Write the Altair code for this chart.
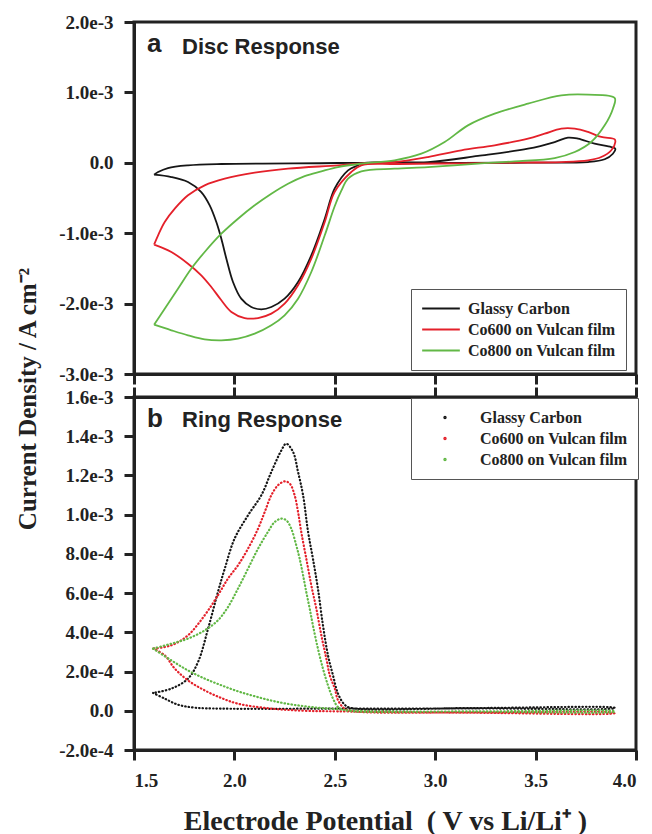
import altair as alt
import pandas as pd

# ---------------- data ----------------
SERIES = ["Glassy Carbon", "Co600 on Vulcan film", "Co800 on Vulcan film"]
COLORS = ["#161616", "#e4202a", "#62b846"]

X_TICKS = [1.5, 2.0, 2.5, 3.0, 3.5, 4.0]
X_TICK_LABELS = ["1.5", "2.0", "2.5", "3.0", "3.5", "4.0"]

# current density in units of 1e-3 A cm^-2
DISC_TICKS = [-3.0, -2.0, -1.0, 0.0, 1.0, 2.0]
DISC_TICK_LABELS = ["-3.0e-3", "-2.0e-3", "-1.0e-3", "0.0", "1.0e-3", "2.0e-3"]
RING_TICKS = [-0.2, 0.0, 0.2, 0.4, 0.6, 0.8, 1.0, 1.2, 1.4, 1.6]
RING_TICK_LABELS = ["-2.0e-4", "0.0", "2.0e-4", "4.0e-4", "6.0e-4", "8.0e-4",
                    "1.0e-3", "1.2e-3", "1.4e-3", "1.6e-3"]

PANEL_LETTERS = ["a", "b"]
PANEL_TITLES = ["Disc Response", "Ring Response"]
X_TITLE = "Electrode Potential\u00a0 ( V vs Li/Li\u207a )"
Y_TITLE = "Current Density / A cm\u207b\u00b2"

# Disc response (closed CV loops)
GC_DISC_V = [1.600, 1.620, 1.669, 1.769, 1.935, 2.516, 2.964, 3.213, 3.462, 3.595, 3.661,
             3.711, 3.794, 3.877, 3.897, 3.885, 3.844, 3.761, 3.462, 3.130, 2.632, 2.616,
             2.566, 2.499, 2.450, 2.383, 2.317, 2.250, 2.184, 2.134, 2.084, 2.034, 1.993,
             1.960, 1.935, 1.910, 1.877, 1.835, 1.769, 1.686, 1.600]
GC_DISC_I = [-0.169, -0.131, -0.074, -0.036, -0.017, -0.003, 0.011, 0.097, 0.200, 0.295, 0.357,
             0.343, 0.272, 0.224, 0.200, 0.129, 0.050, 0.011, 0.002, -0.002, -0.007, -0.036,
             -0.107, -0.368, -0.794, -1.314, -1.693, -1.930, -2.048, -2.081, -2.048, -1.930, -1.693,
             -1.362, -1.078, -0.841, -0.604, -0.415, -0.273, -0.202, -0.169]

CO600_DISC_V = [1.600, 1.620, 1.653, 1.703, 1.769, 1.852, 1.952, 2.101, 2.267, 2.516, 2.650,
                2.798, 2.964, 3.130, 3.296, 3.462, 3.545, 3.628, 3.695, 3.761, 3.827, 3.894,
                3.897, 3.877, 3.827, 3.761, 3.628, 3.396, 3.130, 2.798, 2.632, 2.582, 2.499,
                2.450, 2.383, 2.317, 2.250, 2.184, 2.118, 2.051, 1.985, 1.935, 1.885, 1.835,
                1.769, 1.686, 1.600]
CO600_DISC_I = [-1.163, -1.030, -0.841, -0.652, -0.462, -0.320, -0.226, -0.141, -0.083, -0.036, -0.005,
                0.011, 0.082, 0.178, 0.249, 0.343, 0.414, 0.485, 0.485, 0.438, 0.367, 0.333,
                0.295, 0.178, 0.082, 0.035, 0.011, 0.002, -0.007, -0.017, -0.036, -0.131, -0.415,
                -0.841, -1.362, -1.740, -2.001, -2.143, -2.205, -2.205, -2.119, -1.953, -1.764, -1.598,
                -1.433, -1.267, -1.163]

CO800_DISC_V = [1.600, 1.653, 1.719, 1.785, 1.852, 1.935, 2.018, 2.101, 2.184, 2.267, 2.350,
                2.433, 2.516, 2.632, 2.798, 2.931, 3.047, 3.163, 3.296, 3.462, 3.628, 3.761,
                3.894, 3.885, 3.844, 3.777, 3.695, 3.595, 3.396, 3.213, 2.964, 2.798, 2.632,
                2.566, 2.532, 2.499, 2.450, 2.383, 2.317, 2.250, 2.184, 2.101, 2.018, 1.935,
                1.852, 1.769, 1.686, 1.600]
CO800_DISC_I = [-2.300, -2.072, -1.788, -1.504, -1.267, -1.007, -0.794, -0.604, -0.439, -0.297, -0.188,
                -0.121, -0.060, -0.012, 0.035, 0.129, 0.295, 0.532, 0.698, 0.840, 0.958, 0.968,
                0.920, 0.769, 0.532, 0.295, 0.153, 0.068, 0.021, -0.012, -0.060, -0.083, -0.121,
                -0.226, -0.400, -0.620, -1.030, -1.551, -1.930, -2.166, -2.308, -2.427, -2.498, -2.521,
                -2.507, -2.450, -2.379, -2.300]

# Ring response (closed loops)
GC_RING_V = [1.595, 1.653, 1.719, 1.802, 1.935, 2.500, 3.200, 3.894, 3.894, 3.200, 2.582,
             2.549, 2.516, 2.491, 2.466, 2.441, 2.416, 2.391, 2.367, 2.342, 2.317, 2.292,
             2.258, 2.234, 2.184, 2.134, 2.068, 2.001, 1.952, 1.918, 1.869, 1.819, 1.769,
             1.686, 1.595]
GC_RING_I = [0.091, 0.062, 0.031, 0.016, 0.011, 0.011, 0.012, 0.013, 0.015, 0.014, 0.014,
             0.031, 0.087, 0.181, 0.283, 0.436, 0.623, 0.776, 0.912, 1.099, 1.218, 1.320,
             1.362, 1.328, 1.218, 1.099, 0.997, 0.878, 0.725, 0.606, 0.419, 0.249, 0.164,
             0.113, 0.091]

CO600_RING_V = [1.595, 1.653, 1.703, 1.769, 1.852, 1.935, 2.018, 2.184, 2.350, 2.516, 3.200,
                3.894, 3.894, 3.200, 2.599, 2.549, 2.516, 2.500, 2.475, 2.458, 2.433, 2.408,
                2.383, 2.358, 2.333, 2.317, 2.300, 2.276, 2.251, 2.217, 2.184, 2.151, 2.118,
                2.068, 2.018, 1.968, 1.918, 1.852, 1.769, 1.686, 1.595]
CO600_RING_I = [0.317, 0.283, 0.215, 0.155, 0.104, 0.065, 0.036, 0.011, 0.000, -0.003, -0.010,
                -0.012, -0.010, -0.008, -0.003, 0.011, 0.054, 0.113, 0.181, 0.266, 0.385, 0.521,
                0.640, 0.776, 0.912, 1.014, 1.099, 1.158, 1.170, 1.150, 1.099, 1.014, 0.929,
                0.827, 0.742, 0.674, 0.589, 0.487, 0.385, 0.334, 0.317]

CO800_RING_V = [1.595, 1.686, 1.769, 1.852, 1.935, 2.018, 2.101, 2.184, 2.267, 2.350, 2.433,
                2.516, 2.599, 3.200, 3.894, 3.894, 3.200, 2.549, 2.516, 2.491, 2.466, 2.441,
                2.416, 2.391, 2.375, 2.358, 2.342, 2.325, 2.308, 2.283, 2.259, 2.234, 2.201,
                2.167, 2.118, 2.068, 2.018, 1.968, 1.918, 1.852, 1.769, 1.686, 1.595]
CO800_RING_I = [0.317, 0.257, 0.206, 0.164, 0.130, 0.099, 0.074, 0.052, 0.035, 0.023, 0.014,
                0.008, 0.000, -0.004, -0.005, -0.003, -0.003, 0.003, 0.019, 0.062, 0.130, 0.215,
                0.317, 0.436, 0.521, 0.606, 0.691, 0.776, 0.844, 0.929, 0.971, 0.980, 0.963,
                0.912, 0.827, 0.725, 0.623, 0.529, 0.461, 0.410, 0.368, 0.342, 0.317]


def make_df(v_lists, i_lists):
    frames = []
    for name, vs, cs in zip(SERIES, v_lists, i_lists):
        frames.append(pd.DataFrame({"series": name, "V": vs, "I": cs,
                                    "idx": list(range(len(vs)))}))
    return pd.concat(frames, ignore_index=True)


def label_expr(ticks, labels):
    expr = "''"
    for t, lab in reversed(list(zip(ticks, labels))):
        expr = f"abs(datum.value - ({t})) < 1e-6 ? '{lab}' : ({expr})"
    return expr


disc_df = make_df([GC_DISC_V, CO600_DISC_V, CO800_DISC_V], [GC_DISC_I, CO600_DISC_I, CO800_DISC_I])
ring_df = make_df([GC_RING_V, CO600_RING_V, CO800_RING_V], [GC_RING_I, CO600_RING_I, CO800_RING_I])

W = 502
SERIF = "Liberation Serif"
SANS = "Liberation Sans"
INK = "#222222"

x_scale = alt.Scale(domain=[1.5, 4.0], nice=False, zero=False)
color_scale = alt.Scale(domain=SERIES, range=COLORS)

legend_common = dict(
    title=None, orient="none", labelFont=SERIF, labelFontWeight="bold", labelFontSize=16,
    labelColor=INK, labelLimit=400, strokeColor="#555555", fillColor="white",
    clipHeight=19, rowPadding=2, padding=10,
)
label_style = dict(labelFont=SERIF, labelFontWeight="bold", labelFontSize=19, labelColor=INK)

# ---------------- disc panel ----------------
disc_lines = alt.Chart(disc_df).mark_line(strokeWidth=1.8, interpolate="catmull-rom").encode(
    x=alt.X("V:Q", scale=x_scale,
            axis=alt.Axis(values=X_TICKS, labels=False, title=None)),
    y=alt.Y("I:Q", scale=alt.Scale(domain=[-3.0, 2.0], nice=False, zero=False),
            axis=alt.Axis(values=DISC_TICKS, labelExpr=label_expr(DISC_TICKS, DISC_TICK_LABELS),
                          title=None, labelPadding=11, **label_style)),
    color=alt.Color("series:N", scale=color_scale, sort=SERIES,
                    legend=alt.Legend(legendX=277, legendY=267, symbolType="stroke",
                                      symbolSize=1420, symbolStrokeWidth=2, labelOffset=7,
                                      **legend_common)),
    order=alt.Order("idx:Q"),
)

letter_a = alt.Chart(pd.DataFrame({"t": [PANEL_LETTERS[0]]})).mark_text(
    font=SANS, fontWeight="bold", fontSize=26, align="left", baseline="alphabetic", color=INK
).encode(x=alt.value(13), y=alt.value(30), text="t:N")
title_a = alt.Chart(pd.DataFrame({"t": [PANEL_TITLES[0]]})).mark_text(
    font=SANS, fontWeight="bold", fontSize=22, align="left", baseline="alphabetic", color=INK
).encode(x=alt.value(48), y=alt.value(31.5), text="t:N")

disc_panel = alt.layer(disc_lines, letter_a, title_a).properties(width=W, height=352)

# ---------------- ring panel ----------------
ring_y = alt.Scale(domain=[-0.2, 1.6], nice=False, zero=False)

ring_lines = alt.Chart(ring_df).mark_line(
    strokeWidth=2.2, strokeDash=[0.5, 3.0], strokeCap="round", interpolate="catmull-rom"
).encode(
    x=alt.X("V:Q", scale=x_scale,
            axis=alt.Axis(values=X_TICKS, labelExpr=label_expr(X_TICKS, X_TICK_LABELS),
                          title=X_TITLE, titleFont=SERIF, titleFontWeight="bold",
                          titleFontSize=28, titleColor=INK, labelPadding=11, titlePadding=17,
                          **label_style)),
    y=alt.Y("I:Q", scale=ring_y,
            axis=alt.Axis(values=RING_TICKS, labelExpr=label_expr(RING_TICKS, RING_TICK_LABELS),
                          title=None, labelPadding=11, **label_style)),
    color=alt.Color("series:N", scale=color_scale, sort=SERIES,
                    legend=alt.Legend(legendX=277, legendY=1, symbolType="circle",
                                      symbolSize=2, symbolStrokeWidth=2, symbolOffset=16,
                                      labelOffset=27, **legend_common)),
    order=alt.Order("idx:Q"),
)

top_axis = alt.Chart(ring_df).mark_point(opacity=0, size=1).encode(
    x=alt.X("V:Q", scale=x_scale,
            axis=alt.Axis(orient="top", values=X_TICKS, labels=False, title=None)),
)

letter_b = alt.Chart(pd.DataFrame({"t": [PANEL_LETTERS[1]]})).mark_text(
    font=SANS, fontWeight="bold", fontSize=26, align="left", baseline="alphabetic", color=INK
).encode(x=alt.value(13), y=alt.value(30), text="t:N")
title_b = alt.Chart(pd.DataFrame({"t": [PANEL_TITLES[1]]})).mark_text(
    font=SANS, fontWeight="bold", fontSize=22, align="left", baseline="alphabetic", color=INK
).encode(x=alt.value(48), y=alt.value(29.5), text="t:N")

ring_panel = alt.layer(ring_lines, top_axis, letter_b, title_b).resolve_axis(
    x="independent").properties(width=W, height=353)

chart = alt.vconcat(disc_panel, ring_panel, spacing=23, bounds="flush").resolve_legend(
    color="independent"
).properties(
    title=alt.TitleParams(text=Y_TITLE, orient="left", anchor="middle", font=SERIF,
                          fontWeight="bold", fontSize=25, color=INK, offset=16, dx=25),
    padding={"left": 16, "top": 11, "right": 10, "bottom": 0},
    background="white",
).configure_view(
    stroke=INK, strokeWidth=3
).configure_axis(
    domainColor=INK, domainWidth=3, tickColor=INK, tickWidth=3, tickSize=10,
    labelFont=SERIF, labelFontWeight="bold", labelFontSize=19, labelColor=INK, grid=False,
)

chart.save("out.html", embed_options={"renderer": "svg", "actions": False})
